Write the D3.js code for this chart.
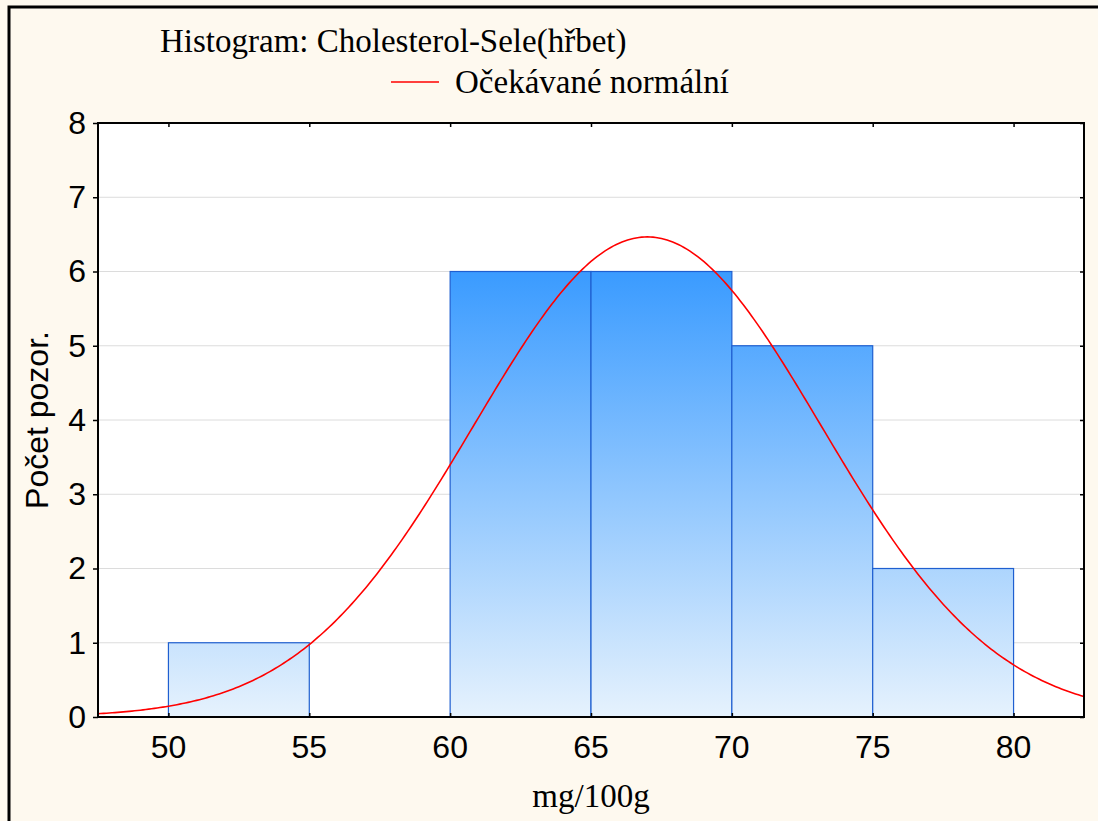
<!DOCTYPE html>
<html lang="cs">
<head>
<meta charset="UTF-8" />
<title>Histogram: Cholesterol-Sele(hřbet)</title>
<script src="https://cdn.jsdelivr.net/npm/d3@7"></script>
<style>
  body { margin: 0; background: #fff; }
  svg { display: block; }
</style>
</head>
<body>
<svg width="1098" height="821"></svg>
<script>
// bins (lower edges) and counts
const binStarts = [50, 55, 60, 65, 70, 75];
const binWidth = 5;
const counts = [1, 0, 6, 6, 5, 2];
const xTicks = [50, 55, 60, 65, 70, 75, 80];
const yTicks = [0, 1, 2, 3, 4, 5, 6, 7, 8];
// expected normal fit (mean, sd estimated from the drawn curve)
const fitMean = 67.0;
const fitSd = 6.17;

const svg = d3.select("svg");
const W = 1098, H = 821;
const plot = { left: 98, right: 1084, top: 123, bottom: 717 };

// background + frame
svg.append("rect").attr("width", W).attr("height", H).attr("fill", "#fef9ef");
svg.append("path")
  .attr("d", `M9,${H} L9,7 L${W},7`)
  .attr("fill", "none").attr("stroke", "#000").attr("stroke-width", 3);

const x = d3.scaleLinear().domain([47.5, 82.5]).range([plot.left, plot.right]);
const y = d3.scaleLinear().domain([0, 8]).range([plot.bottom, plot.top]);

svg.append("rect")
  .attr("x", plot.left).attr("y", plot.top)
  .attr("width", plot.right - plot.left).attr("height", plot.bottom - plot.top)
  .attr("fill", "#fff");

// grid
svg.append("g").selectAll("line").data(yTicks.slice(1, -1)).join("line")
  .attr("x1", plot.left).attr("x2", plot.right)
  .attr("y1", d => y(d)).attr("y2", d => y(d))
  .attr("stroke", "#dcdcdc").attr("stroke-width", 1);

// gradient for bars
const grad = svg.append("defs").append("linearGradient")
  .attr("id", "barGrad").attr("gradientUnits", "userSpaceOnUse")
  .attr("x1", 0).attr("x2", 0).attr("y1", y(6)).attr("y2", y(0));
grad.append("stop").attr("offset", 0).attr("stop-color", "#3a9bff");
grad.append("stop").attr("offset", 1).attr("stop-color", "#e6f2fd");

const bins = binStarts.map((b, i) => ({ x0: b, x1: b + binWidth, n: counts[i] }));
svg.append("g").selectAll("rect").data(bins.filter(d => d.n > 0)).join("rect")
  .attr("x", d => x(d.x0)).attr("width", d => x(d.x1) - x(d.x0))
  .attr("y", d => y(d.n)).attr("height", d => y(0) - y(d.n))
  .attr("fill", "url(#barGrad)")
  .attr("stroke", "#1f5fd0").attr("stroke-width", 1.2);

// expected normal curve
const N = d3.sum(counts);
const expected = v => N * binWidth * Math.exp(-0.5 * ((v - fitMean) / fitSd) ** 2) / (fitSd * Math.sqrt(2 * Math.PI));
const xs = d3.range(x.domain()[0], x.domain()[1] + 0.01, 0.1);
svg.append("path")
  .datum(xs)
  .attr("d", d3.line().x(d => x(d)).y(d => y(expected(d))))
  .attr("fill", "none").attr("stroke", "#ff0000").attr("stroke-width", 1.6);

// axes
const sans = "'Liberation Sans', Arial, sans-serif";
const serif = "'Liberation Serif', 'Times New Roman', serif";

const yAxis = svg.append("g").attr("transform", `translate(${plot.left},0)`)
  .call(d3.axisLeft(y).tickValues(yTicks).tickSize(5).tickPadding(7));
const yAxisR = svg.append("g").attr("transform", `translate(${plot.right},0)`)
  .call(d3.axisLeft(y).tickValues(yTicks).tickSize(4).tickFormat(""));
const xAxis = svg.append("g").attr("transform", `translate(0,${plot.bottom})`)
  .call(d3.axisTop(x).tickValues(xTicks).tickSize(4).tickFormat(""));
const xAxisT = svg.append("g").attr("transform", `translate(0,${plot.top})`)
  .call(d3.axisBottom(x).tickValues(xTicks).tickSize(4).tickFormat(""));
[yAxis, yAxisR, xAxis, xAxisT].forEach(g => {
  g.select(".domain").remove();
  g.selectAll("line").attr("stroke", "#000").attr("stroke-width", 1.5);
});
yAxis.selectAll("text").attr("font-family", sans).attr("font-size", 32).attr("fill", "#000");

svg.append("g").selectAll("text").data(xTicks).join("text")
  .attr("x", d => x(d)).attr("y", 758)
  .attr("text-anchor", "middle").attr("font-family", sans).attr("font-size", 32)
  .text(d => d);

svg.append("rect")
  .attr("x", plot.left).attr("y", plot.top)
  .attr("width", plot.right - plot.left).attr("height", plot.bottom - plot.top)
  .attr("fill", "none").attr("stroke", "#000").attr("stroke-width", 2);

// titles
svg.append("text").attr("x", 160).attr("y", 52)
  .attr("font-family", serif).attr("font-size", 33).text("Histogram: Cholesterol-Sele(hřbet)");
svg.append("line").attr("x1", 391).attr("x2", 439).attr("y1", 82).attr("y2", 82)
  .attr("stroke", "#ff0000").attr("stroke-width", 1.6);
svg.append("text").attr("x", 455).attr("y", 93)
  .attr("font-family", serif).attr("font-size", 33).text("Očekávané normální");
svg.append("text").attr("x", 591).attr("y", 807).attr("text-anchor", "middle")
  .attr("font-family", serif).attr("font-size", 33).text("mg/100g");
svg.append("text").attr("transform", "translate(48,420) rotate(-90)").attr("text-anchor", "middle")
  .attr("font-family", sans).attr("font-size", 32).text("Počet pozor.");
</script>
</body>
</html>
